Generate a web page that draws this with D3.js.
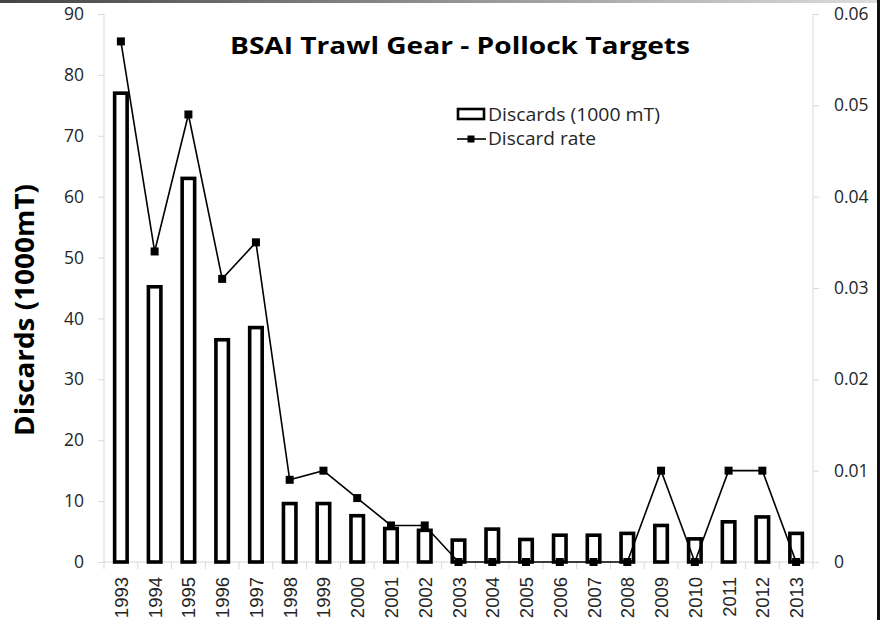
<!DOCTYPE html>
<html>
<head>
<meta charset="utf-8">
<script src="https://cdn.jsdelivr.net/npm/d3@7"></script>
<style>
  body { margin: 0; background: #fff; }
  svg { display: block; }
</style>
</head>
<body>
<svg id="viz" width="880" height="627"></svg>
<script>
// data
var years = ["1993","1994","1995","1996","1997","1998","1999","2000","2001","2002","2003",
             "2004","2005","2006","2007","2008","2009","2010","2011","2012","2013"];
var discards = [77, 45.2, 63, 36.5, 38.5, 9.6, 9.6, 7.6, 5.5, 5.2, 3.6,
                5.4, 3.7, 4.4, 4.4, 4.7, 6.0, 3.8, 6.6, 7.4, 4.7];
var discardRate = [0.057, 0.034, 0.049, 0.031, 0.035, 0.009, 0.010, 0.007, 0.004, 0.004, 0,
                   0, 0, 0, 0, 0, 0.010, 0, 0.010, 0.010, 0];
var leftTicks = [0, 10, 20, 30, 40, 50, 60, 70, 80, 90];
var rightTicks = [0, 0.01, 0.02, 0.03, 0.04, 0.05, 0.06];

var svg = d3.select("#viz");
var plotLeft = 104, plotRight = 813, plotTop = 14, plotBottom = 562;
var axisColor = "#d9d9d9";
var textColor = "#262626";
var font = "'Open Sans', sans-serif";

// frame decoration
var grad = svg.append("defs").append("linearGradient").attr("id", "topbar");
grad.append("stop").attr("offset", "0%").attr("stop-color", "#444");
grad.append("stop").attr("offset", "100%").attr("stop-color", "#ddd");
svg.append("rect").attr("x", 0).attr("y", 0).attr("width", 880).attr("height", 3).attr("fill", "url(#topbar)");
svg.append("rect").attr("x", 877).attr("y", 0).attr("width", 3).attr("height", 620).attr("fill", "#111");

var x = d3.scaleBand().domain(years).range([plotLeft, plotRight]);
var y = d3.scaleLinear().domain([0, 90]).range([plotBottom, plotTop]);
var y2 = d3.scaleLinear().domain([0, 0.06]).range([plotBottom, plotTop]);

// left axis
var gl = svg.append("g").attr("transform", "translate(" + plotLeft + ",0)")
    .call(d3.axisLeft(y).tickValues(leftTicks).tickSize(6).tickPadding(14));
gl.select(".domain").attr("stroke", axisColor).attr("d", "M0," + plotTop + "V" + plotBottom);
gl.selectAll(".tick line").attr("stroke", axisColor);
gl.selectAll(".tick text").attr("fill", textColor).style("font-family", font).style("font-size", "17.5px");

// right axis
var gr = svg.append("g").attr("transform", "translate(" + plotRight + ",0)")
    .call(d3.axisRight(y2).tickValues(rightTicks).tickSize(6).tickPadding(14)
        .tickFormat(function (d) { return d === 0 ? "0" : d3.format(".2f")(d); }));
gr.select(".domain").attr("stroke", axisColor).attr("d", "M0," + plotTop + "V" + plotBottom);
gr.selectAll(".tick line").attr("stroke", axisColor);
gr.selectAll(".tick text").attr("fill", textColor).style("font-family", font).style("font-size", "17.5px")
    .attr("x", 21);

// bottom axis: ticks on band boundaries
var gb = svg.append("g").attr("transform", "translate(0," + plotBottom + ")");
gb.append("line").attr("x1", plotLeft).attr("x2", plotRight).attr("y1", 0).attr("y2", 0).attr("stroke", axisColor);
gb.selectAll("line.bt").data(years.concat(["end"])).enter().append("line")
    .attr("class", "bt")
    .attr("x1", function (d, i) { return plotLeft + i * x.step(); })
    .attr("x2", function (d, i) { return plotLeft + i * x.step(); })
    .attr("y1", 0).attr("y2", 7).attr("stroke", axisColor);
gb.selectAll("text").data(years).enter().append("text")
    .attr("transform", function (d) { return "translate(" + (x(d) + x.bandwidth() / 2 + 7) + ",15) rotate(-90)"; })
    .attr("text-anchor", "end")
    .attr("fill", textColor)
    .style("font-family", "'Liberation Sans', Arial, sans-serif")
    .style("font-size", "18.5px")
    .text(function (d) { return d; });

// bars
var bw = x.bandwidth() * 0.37;
svg.append("g").selectAll("rect").data(discards).enter().append("rect")
    .attr("x", function (d, i) { return x(years[i]) + (x.bandwidth() - bw) / 2; })
    .attr("y", function (d) { return y(d); })
    .attr("width", bw)
    .attr("height", function (d) { return y(0) - y(d); })
    .attr("fill", "#fff")
    .attr("stroke", "#000")
    .attr("stroke-width", 3.6);

// rate line
var line = d3.line()
    .x(function (d, i) { return x(years[i]) + x.bandwidth() / 2; })
    .y(function (d) { return y2(d); });
svg.append("path").datum(discardRate).attr("d", line)
    .attr("fill", "none").attr("stroke", "#000").attr("stroke-width", 1.6);
svg.append("g").selectAll("rect").data(discardRate).enter().append("rect")
    .attr("x", function (d, i) { return x(years[i]) + x.bandwidth() / 2 - 4; })
    .attr("y", function (d) { return y2(d) - 4; })
    .attr("width", 8).attr("height", 8).attr("fill", "#000");

// title
svg.append("text").attr("x", 460).attr("y", 54).attr("text-anchor", "middle")
    .style("font-family", font).style("font-weight", "bold").style("font-size", "24px")
    .attr("textLength", 460).attr("lengthAdjust", "spacingAndGlyphs")
    .attr("fill", "#000").text("BSAI Trawl Gear - Pollock Targets");

// y axis title
svg.append("text").attr("transform", "translate(34,310) rotate(-90)").attr("text-anchor", "middle")
    .style("font-family", font).style("font-weight", "bold").style("font-size", "27px")
    .attr("textLength", 252).attr("lengthAdjust", "spacingAndGlyphs")
    .attr("fill", "#000").text("Discards (1000mT)");

// legend
var lg = svg.append("g");
lg.append("rect").attr("x", 458).attr("y", 109).attr("width", 26).attr("height", 10)
    .attr("fill", "#fff").attr("stroke", "#000").attr("stroke-width", 2.6);
lg.append("text").attr("x", 488).attr("y", 121).attr("fill", textColor)
    .style("font-family", font).style("font-size", "19px")
    .attr("textLength", 172).attr("lengthAdjust", "spacingAndGlyphs").text("Discards (1000 mT)");
lg.append("line").attr("x1", 457).attr("x2", 486).attr("y1", 139).attr("y2", 139)
    .attr("stroke", "#000").attr("stroke-width", 1.6);
lg.append("rect").attr("x", 467.5).attr("y", 135.5).attr("width", 7).attr("height", 7).attr("fill", "#000");
lg.append("text").attr("x", 488).attr("y", 145).attr("fill", textColor)
    .style("font-family", font).style("font-size", "19px")
    .attr("textLength", 108).attr("lengthAdjust", "spacingAndGlyphs").text("Discard rate");
</script>
</body>
</html>
